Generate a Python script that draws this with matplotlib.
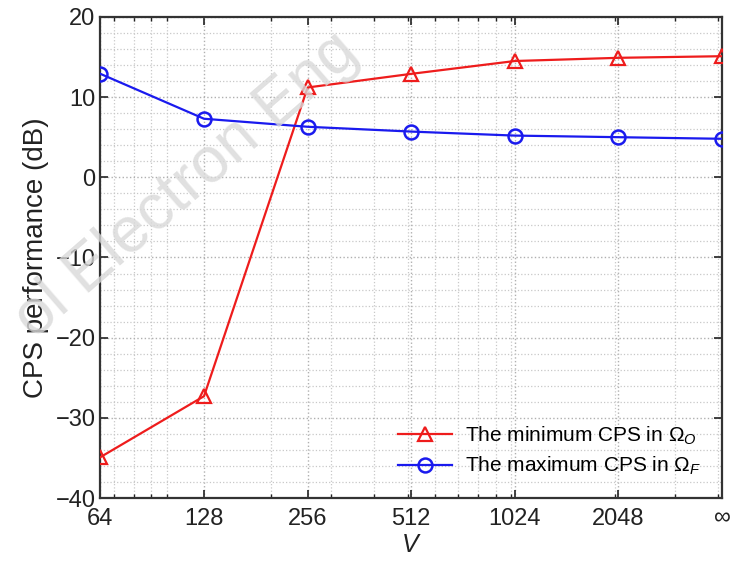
import matplotlib
matplotlib.use("Agg")
import matplotlib.pyplot as plt
from matplotlib.ticker import FixedLocator, NullFormatter, MultipleLocator

plt.rcParams['font.family'] = ['Liberation Sans', 'DejaVu Sans']
plt.rcParams['mathtext.fontset'] = 'custom'
plt.rcParams['mathtext.rm'] = 'Liberation Sans'
plt.rcParams['mathtext.it'] = 'Liberation Sans:italic'

# Data
V_values = [64, 128, 256, 512, 1024, 2048, 4096]   # 4096 position shown as "∞"
x_ticklabels = ['64', '128', '256', '512', '1024', '2048', '∞']
min_cps_omega_o = [-34.9, -27.3, 11.2, 12.9, 14.5, 14.9, 15.1]
max_cps_omega_f = [12.9, 7.3, 6.3, 5.7, 5.2, 5.0, 4.8]

fig = plt.figure(figsize=(7.33, 5.64), dpi=100)
ax = fig.add_axes([0.137, 0.117, 0.848, 0.853])

ax.plot(V_values, min_cps_omega_o, color='#ee1c1c', lw=1.6, marker='^',
        ms=10, mfc='none', mec='#ee1c1c', mew=1.6,
        label=r'The minimum CPS in $\Omega_{\mathit{O}}$', zorder=3)
ax.plot(V_values, max_cps_omega_f, color='#1a1aee', lw=1.6, marker='o',
        ms=10, mfc='none', mec='#1a1aee', mew=1.8,
        label=r'The maximum CPS in $\Omega_{\mathit{F}}$', zorder=3)

ax.set_xscale('log')
ax.set_xlim(64, 4096)
ax.set_ylim(-40, 20)
ax.xaxis.set_major_locator(FixedLocator(V_values))
ax.set_xticklabels(x_ticklabels)
minors = [70, 80, 90, 100, 200, 300, 400, 500, 600, 700, 800, 900, 1000,
          2000, 3000, 4000]
ax.xaxis.set_minor_locator(FixedLocator(minors))
ax.xaxis.set_minor_formatter(NullFormatter())
ax.yaxis.set_major_locator(MultipleLocator(10))
ax.yaxis.set_minor_locator(MultipleLocator(2))

ax.tick_params(which='both', direction='in', top=True, right=True,
               labelsize=17, colors='#222222')
ax.tick_params(which='major', length=6, width=1.2)
ax.tick_params(which='minor', length=3, width=1.0)
ax.tick_params(axis='y', which='minor', length=0)
ax.tick_params(axis='x', pad=7)

ax.grid(True, which='major', linestyle=':', color='#b0b0b0', lw=1.0)
ax.grid(True, which='minor', linestyle=':', color='#c8c8c8', lw=0.9)
ax.set_axisbelow(True)

for s in ax.spines.values():
    s.set_linewidth(1.6)
    s.set_color('#333333')

ax.set_ylabel('CPS performance (dB)', fontsize=20, color='#222222', labelpad=5)
ax.set_xlabel('$V$', fontsize=18, color='#222222', labelpad=2)

leg = ax.legend(loc='lower right', fontsize=15, frameon=False,
                handlelength=2.6, borderaxespad=0.6, labelspacing=0.4,
                handletextpad=0.6)

# watermark
fig.text(0.493, 0.900, 'ol Electron Eng', fontsize=46,
         color='#d9d9d9', alpha=0.8, rotation=41, rotation_mode='anchor',
         ha='right', va='baseline', zorder=5)

fig.savefig('out.png', dpi=100)
